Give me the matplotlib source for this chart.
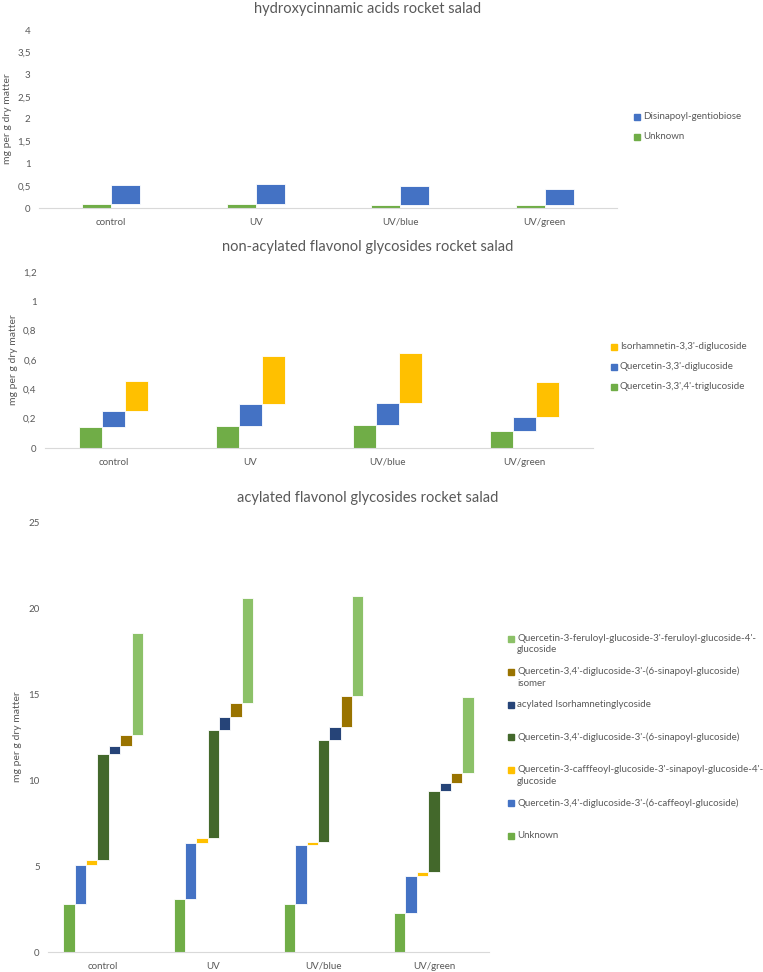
import matplotlib
matplotlib.use('Agg')
from matplotlib import pyplot as plt
from matplotlib.patches import Rectangle
from matplotlib.ticker import FixedLocator, FuncFormatter
import numpy as np

plt.rcParams['font.family'] = ['Lato', 'DejaVu Sans']

treatments = ['control', 'UV', 'UV/blue', 'UV/green']

# hydroxycinnamic acids (mg per g dry matter)
hca_names = ['Unknown', 'Disinapoyl-gentiobiose']
hca_unknown = [0.08, 0.10, 0.07, 0.07]
hca_disinapoyl = [0.43, 0.45, 0.42, 0.35]

# non-acylated flavonol glycosides
nafg_names = ["Quercetin-3,3',4'-triglucoside", "Quercetin-3,3'-diglucoside",
              "Isorhamnetin-3,3'-diglucoside"]
nafg_q_tri = [0.143, 0.151, 0.158, 0.115]
nafg_q_di = [0.106, 0.150, 0.148, 0.098]
nafg_iso_di = [0.208, 0.328, 0.344, 0.237]

# acylated flavonol glycosides
afg_names = ['Unknown',
             "Quercetin-3,4'-diglucoside-3'-(6-caffeoyl-glucoside)",
             "Quercetin-3-cafffeoyl-glucoside-3'-sinapoyl-glucoside-4'-\nglucoside",
             "Quercetin-3,4'-diglucoside-3'-(6-sinapoyl-glucoside)",
             'acylated Isorhamnetinglycoside',
             "Quercetin-3,4'-diglucoside-3'-(6-sinapoyl-glucoside)\nisomer",
             "Quercetin-3-feruloyl-glucoside-3'-feruloyl-glucoside-4'-\nglucoside"]
afg_unknown = [2.81, 3.08, 2.77, 2.25]
afg_q_caff = [2.23, 3.28, 3.43, 2.19]
afg_q_caff_sin = [0.29, 0.25, 0.21, 0.21]
afg_q_sin = [6.20, 6.28, 5.92, 4.71]
afg_iso_acyl = [0.46, 0.77, 0.77, 0.47]
afg_q_sin_iso = [0.61, 0.82, 1.78, 0.58]
afg_q_fer = [5.93, 6.10, 5.82, 4.42]

GREEN, BLUE, GOLD = '#70AD47', '#4472C4', '#FFC000'
DKGREEN, NAVY, BROWN, LTGREEN = '#43682B', '#264478', '#997300', '#8CC168'
TXT = '#595959'
W, H = 763, 972

fig = plt.figure(figsize=(7.63, 9.72), dpi=100)


def px_axes(l, t, r, b):
    return fig.add_axes([l / W, 1 - b / H, (r - l) / W, (b - t) / H])


def waterfall(ax, series, colors, width, ymax, ystep, dec):
    x = np.arange(len(treatments))
    n = len(series)
    bottom = np.zeros(len(treatments))
    for i, (vals, c) in enumerate(zip(series, colors)):
        off = (i - (n - 1) / 2) * width
        ax.bar(x + off, vals, width, bottom=bottom, color=c,
               edgecolor='white', linewidth=0.6)
        bottom = bottom + np.array(vals)
    ax.set_xlim(-0.5, len(treatments) - 0.5)
    ax.set_ylim(0, ymax)
    ax.set_xticks(x)
    ax.set_xticklabels(treatments, color=TXT, fontsize=7)
    ticks = np.arange(0, ymax + ystep / 2, ystep)
    ax.yaxis.set_major_locator(FixedLocator(ticks))
    ax.yaxis.set_major_formatter(FuncFormatter(
        lambda v, p: (('%.' + str(dec) + 'f') % v).rstrip('0').rstrip('.').replace('.', ',') if dec else '%d' % v))
    ax.tick_params(axis='y', length=0, labelsize=7, labelcolor=TXT, pad=6)
    ax.tick_params(axis='x', length=0, pad=7)
    for s in ['top', 'right', 'left']:
        ax.spines[s].set_visible(False)
    ax.spines['bottom'].set_color('#D9D9D9')
    ax.set_ylabel('mg per g dry matter', color=TXT, fontsize=7.5)


def legend(names, colors, x, y0, pitch):
    for k, (name, c) in enumerate(reversed(list(zip(names, colors)))):
        y = y0 + k * pitch
        fig.patches.append(Rectangle(((x - 3) / W, 1 - (y + 3) / H), 6 / W, 6 / H,
                                     color=c, transform=fig.transFigure))
        fig.text((x + 6) / W, 1 - (y - 5) / H, name, color=TXT, fontsize=7,
                 va='top', ha='left', linespacing=1.35)


# panel 1
ax1 = px_axes(39, 30, 617, 208)
waterfall(ax1, [hca_unknown, hca_disinapoyl], [GREEN, BLUE], 0.2, 4, 0.5, 1)
ax1.yaxis.set_label_coords(-0.046, 0.5)
fig.text(368 / W, 1 - 9 / H, 'hydroxycinnamic acids rocket salad', color=TXT,
         fontsize=10.5, ha='center', va='center')
legend(hca_names, [GREEN, BLUE], 637, 117, 20)

# panel 2
ax2 = px_axes(45, 272, 593, 448)
waterfall(ax2, [nafg_q_tri, nafg_q_di, nafg_iso_di], [GREEN, BLUE, GOLD],
          0.168, 1.2, 0.2, 1)
ax2.yaxis.set_label_coords(-0.05, 0.5)
fig.text(368 / W, 1 - 247 / H, 'non-acylated flavonol glycosides rocket salad',
         color=TXT, fontsize=10.5, ha='center', va='center')
legend(nafg_names, [GREEN, BLUE, GOLD], 614, 347, 20)

# panel 3
afg_colors = [GREEN, BLUE, GOLD, DKGREEN, NAVY, BROWN, LTGREEN]
ax3 = px_axes(48, 522, 489, 952)
waterfall(ax3, [afg_unknown, afg_q_caff, afg_q_caff_sin, afg_q_sin,
                afg_iso_acyl, afg_q_sin_iso, afg_q_fer],
          afg_colors, 0.103, 25, 5, 0)
ax3.yaxis.set_label_coords(-0.058, 0.5)
fig.text(368 / W, 1 - 498 / H, 'acylated flavonol glycosides rocket salad',
         color=TXT, fontsize=10.5, ha='center', va='center')
legend(afg_names, afg_colors, 511, 639, 32.8)

fig.savefig('out.png', dpi=100, facecolor='white')
